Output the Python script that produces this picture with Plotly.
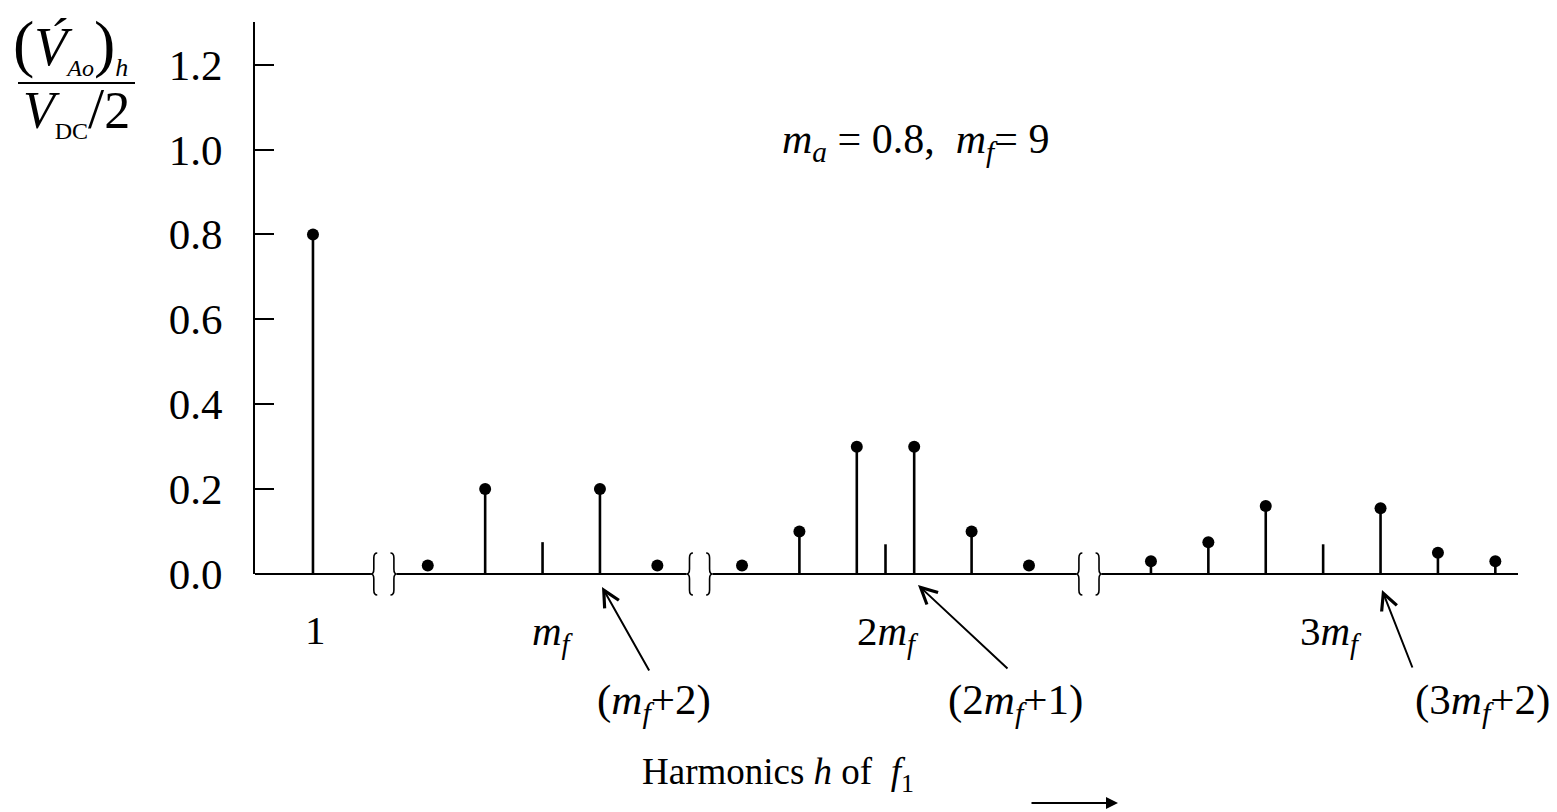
import plotly.graph_objects as go

# ---------------- data ----------------
fund_h = [1]
fund_val = [0.80]
fund_kind = ["both"]

mf = 9
# sideband offsets (harmonic order relative to k*m_f) and normalized amplitudes
g1_offset = [-4, -2, 0, 2, 4]
g1_val = [0.02, 0.20, 0.075, 0.20, 0.02]
g1_kind = ["dot", "both", "stem", "both", "dot"]

g2_offset = [-5, -3, -1, 0, 1, 3, 5]
g2_val = [0.02, 0.10, 0.30, 0.07, 0.30, 0.10, 0.02]
g2_kind = ["dot", "both", "both", "stem", "both", "both", "dot"]

g3_offset = [-6, -4, -2, 0, 2, 4, 6]
g3_val = [0.03, 0.075, 0.16, 0.07, 0.155, 0.05, 0.03]
g3_kind = ["both", "both", "both", "stem", "both", "both", "both"]

# broken x-axis: display centre of each group (one unit per harmonic order)
group_centre = [9.0, 20.95, 36.2]
axis_breaks = [3.47, 14.47, 28.04]

y_ticks = [0.0, 0.2, 0.4, 0.6, 0.8, 1.0, 1.2]

# ---------------- assemble ----------------
xs, ys, kinds = [], [], []
xs += [float(h) for h in fund_h]; ys += fund_val; kinds += fund_kind
for c, offs, vals, kd in zip(group_centre, [g1_offset, g2_offset, g3_offset],
                             [g1_val, g2_val, g3_val], [g1_kind, g2_kind, g3_kind]):
    xs += [c + o for o in offs]; ys += vals; kinds += kd

stem_x, stem_y = [], []
dot_x, dot_y = [], []
for x, y, k in zip(xs, ys, kinds):
    if k in ("stem", "both"):
        stem_x += [x, x, None]
        stem_y += [0, y, None]
    if k in ("dot", "both"):
        dot_x.append(x)
        dot_y.append(y)

W, H = 1557, 812
L, R, T, B = 255, 39, 22, 238
PW, PH = W - L - R, H - T - B
x_range = [-1.02, 42.99]
y_range = [0, 1.3004]
FONT = "Liberation Serif, Times New Roman, serif"


def px(xp):
    return (xp - L) / PW


def py(yp):
    return (H - B - yp) / PH


fig = go.Figure()
fig.add_trace(go.Scatter(x=stem_x, y=stem_y, mode="lines",
                         line=dict(color="black", width=2.6),
                         hoverinfo="skip", showlegend=False, cliponaxis=False))
fig.add_trace(go.Scatter(x=dot_x, y=dot_y, mode="markers",
                         marker=dict(color="black", size=12),
                         showlegend=False, cliponaxis=False))

shapes = []
# x axis line with gaps at breaks
gap = 0.45
edges = [x_range[0]]
for b in axis_breaks:
    edges += [b - gap, b + gap]
edges.append(x_range[1])
for i in range(0, len(edges), 2):
    shapes.append(dict(type="line", xref="x", yref="paper", x0=edges[i], x1=edges[i + 1],
                       y0=0, y1=0, line=dict(color="black", width=2)))

# braces at the breaks
hb = 21 / PH
rb = 5 / PH
for b in axis_breaks:
    for side in (-1, 1):
        tip = b + side * gap
        body = tip - side * 0.10
        end = tip - side * 0.22
        path = (f"M{end},{hb} Q{body},{hb} {body},{hb - rb} L{body},{rb} "
                f"Q{body},0 {tip},0 Q{body},0 {body},{-rb} L{body},{-hb + rb} "
                f"Q{body},{-hb} {end},{-hb}")
        shapes.append(dict(type="path", xref="x", yref="paper", path=path,
                           line=dict(color="black", width=1.6)))

# fraction bar of the y-axis title
shapes.append(dict(type="line", xref="paper", yref="paper", x0=px(18), x1=px(135),
                   y0=py(83), y1=py(83), line=dict(color="black", width=2)))

ann = []


def text(xp, yp, s, size, xanchor="center", yanchor="middle"):
    ann.append(dict(xref="paper", yref="paper", x=px(xp), y=py(yp), text=s,
                    showarrow=False, xanchor=xanchor, yanchor=yanchor,
                    font=dict(family=FONT, size=size, color="black")))


def arrow(tail, head, hs=5, size=1.6, width=2):
    ann.append(dict(xref="paper", yref="paper", x=px(head[0]), y=py(head[1]),
                    ax=tail[0] - head[0], ay=tail[1] - head[1], axref="pixel", ayref="pixel",
                    text="", showarrow=True, arrowhead=hs, arrowsize=size,
                    arrowwidth=width, arrowcolor="black", standoff=0, startstandoff=0))


# y-axis title (fraction)
text(70, 45, '<span style="font-size:64px">(</span><i>V&#769;</i>'
             '<sub><span style="font-size:24px"><i>Ao</i></span></sub>'
             '<span style="font-size:64px">)</span>'
             '<sub><span style="font-size:26px"><i>h</i></span></sub>', 54)
text(76, 110, '<i>V</i><sub><span style="font-size:24px">DC</span></sub>'
              '<span style="font-size:58px">/</span>2', 52)

# axis labels under the harmonic groups
text(315, 630, "1", 41)
text(553, 634, "<i>m</i><sub><i>f</i></sub>", 41)
text(888, 634, "2<i>m</i><sub><i>f</i></sub>", 41)
text(1331, 634, "3<i>m</i><sub><i>f</i></sub>", 41)

text(654, 703, "(<i>m</i><sub><i>f</i></sub>+2)", 43)
text(1015, 703, "(2<i>m</i><sub><i>f</i></sub>+1)", 43)
text(1482, 703, "(3<i>m</i><sub><i>f</i></sub>+2)", 43)

arrow((650, 672), (602, 587))
arrow((1009, 670), (918, 585))
arrow((1413, 669), (1382, 590))

text(915, 142, "<i>m</i><sub><i>a</i></sub> = 0.8,  <i>m</i><sub><i>f</i></sub>= 9", 42)
text(778, 774, "Harmonics <i>h</i> of  <i>f</i><sub>1</sub>", 37)
arrow((1030, 803), (1118, 803), hs=2, size=1.2, width=2)

fig.update_layout(
    width=W, height=H,
    margin=dict(l=L, r=R, t=T, b=B, pad=0),
    paper_bgcolor="white", plot_bgcolor="white",
    showlegend=False,
    shapes=shapes, annotations=ann,
    xaxis=dict(range=x_range, visible=False, fixedrange=True),
    yaxis=dict(range=y_range, showgrid=False, zeroline=False,
               showline=True, linecolor="black", linewidth=2,
               ticks="inside", ticklen=19, tickwidth=2, tickcolor="black",
               tickvals=y_ticks, tickformat=".1f", ticklabelstandoff=22,
               tickfont=dict(family=FONT, size=43, color="black"),
               fixedrange=True),
)

fig.write_html("out.html")
